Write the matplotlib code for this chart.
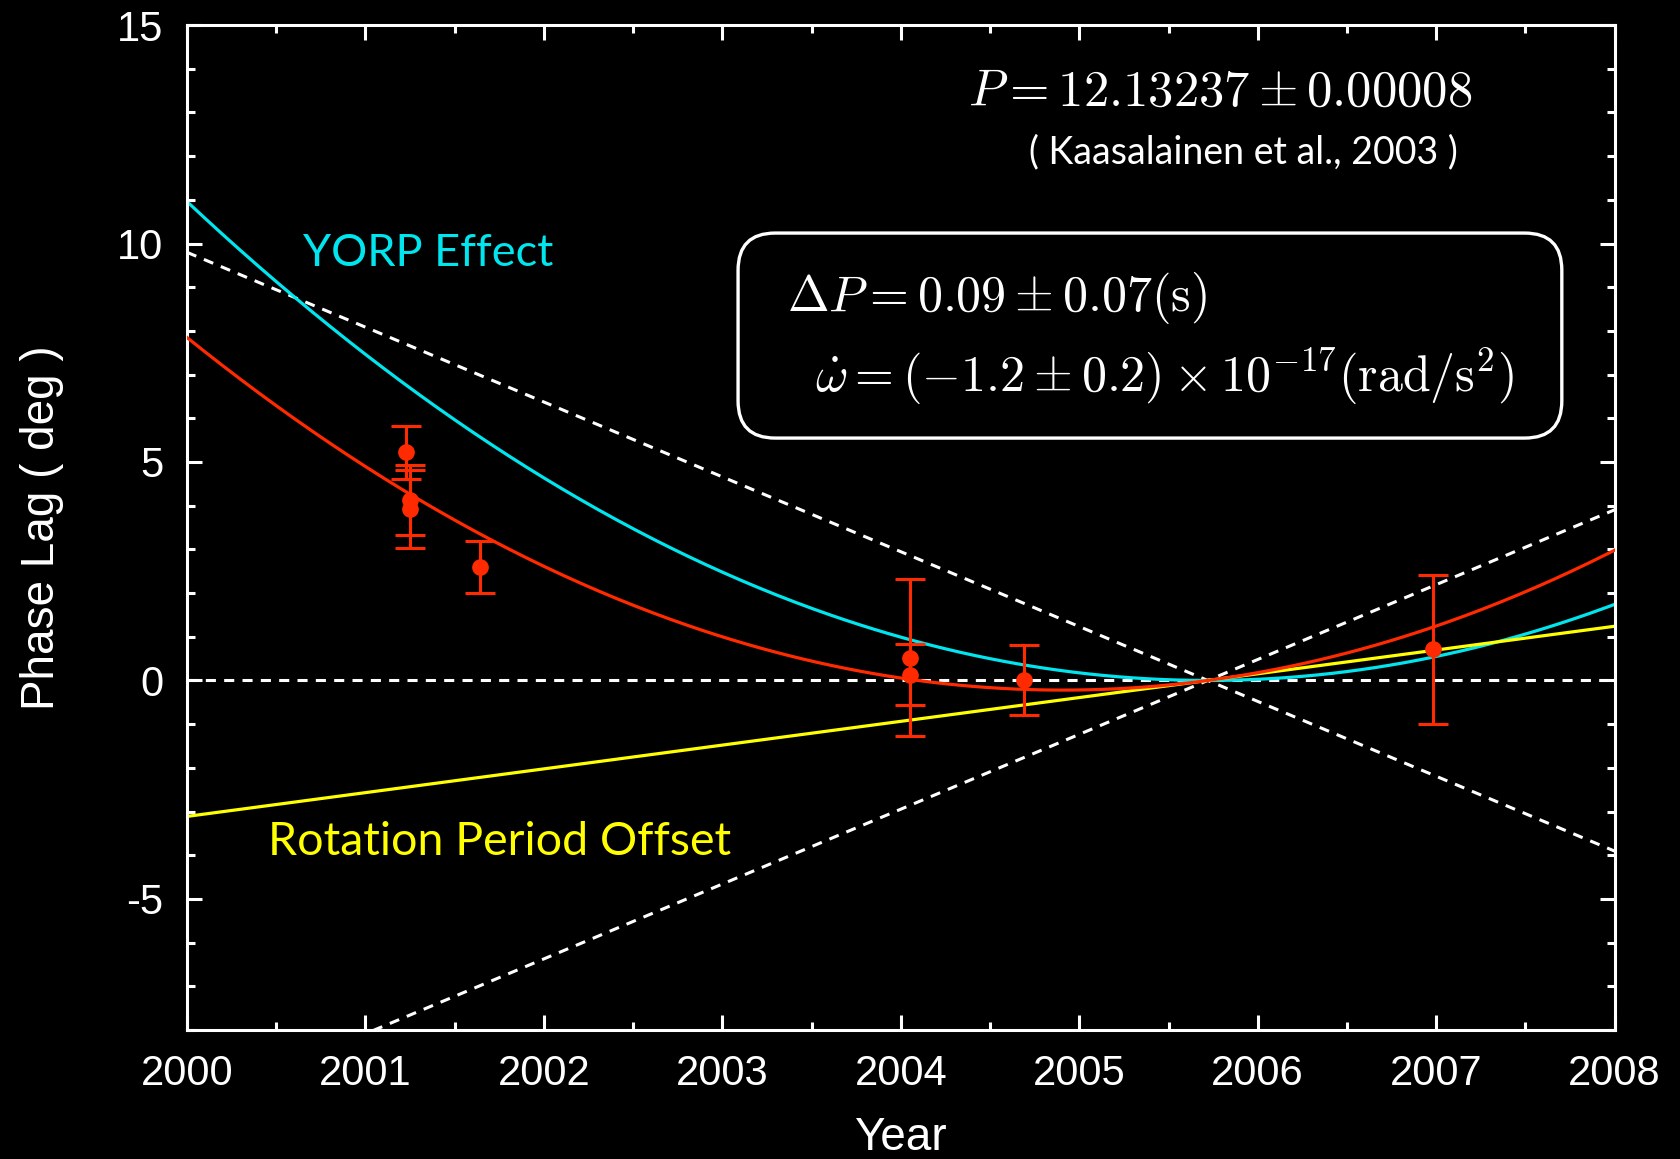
import numpy as np
import matplotlib
matplotlib.use("Agg")
import matplotlib.pyplot as plt
from matplotlib.patches import FancyBboxPatch
from matplotlib.ticker import MultipleLocator

plt.rcParams['mathtext.fontset'] = 'cm'
plt.rcParams['axes.unicode_minus'] = False

# measured phase lags
obs_year = [2001.23, 2001.25, 2001.25, 2001.64, 2004.05, 2004.05, 2004.69, 2006.98]
obs_lag = [5.22, 4.13, 3.92, 2.60, 0.52, 0.13, 0.00, 0.71]
obs_err = [0.60, 0.80, 0.90, 0.60, 1.80, 0.70, 0.80, 1.70]

# model parameters
t_ref = 2005.72        # epoch where all curves cross zero
lin_coef = 0.544       # deg / yr  (rotation period offset)
quad_coef = 0.335      # deg / yr^2 (YORP)
dash_slope = 1.713     # deg / yr  (envelope lines)

red = '#ff2a00'
cyan = '#00e5ee'
yellow = '#ffff00'

fig = plt.figure(figsize=(16.8, 11.59), dpi=100, facecolor='black')
ax = fig.add_axes([0.1113, 0.1113, 0.8498, 0.8671])
ax.set_facecolor('black')

t = np.linspace(2000, 2008, 400)
dt = t - t_ref
offset = lin_coef * dt
yorp = quad_coef * dt ** 2

# dashed reference lines
ax.plot(t, np.zeros_like(t), color='white', lw=2.2, dashes=(3.3, 2.7), zorder=1)
ax.plot(t, dash_slope * dt, color='white', lw=2.2, dashes=(3.3, 2.7), zorder=1)
ax.plot(t, -dash_slope * dt, color='white', lw=2.2, dashes=(3.3, 2.7), zorder=1)

ax.plot(t, yorp, color=cyan, lw=2.3, zorder=2)
ax.plot(t, offset, color=yellow, lw=2.3, zorder=2)
ax.plot(t, offset + yorp, color=red, lw=2.3, zorder=3)

ax.errorbar(obs_year, obs_lag, yerr=obs_err, fmt='o', color=red, ms=11,
            elinewidth=2.2, capsize=11, capthick=2.2, zorder=4)

ax.set_xlim(2000, 2008)
ax.set_ylim(-8, 15)
ax.xaxis.set_major_locator(MultipleLocator(1))
ax.xaxis.set_minor_locator(MultipleLocator(0.5))
ax.yaxis.set_major_locator(MultipleLocator(5))
ax.yaxis.set_minor_locator(MultipleLocator(1))

for s in ax.spines.values():
    s.set_color('white')
    s.set_linewidth(2.2)

ax.tick_params(which='both', direction='in', top=True, right=True, colors='white', width=2.2)
ax.tick_params(which='major', length=11, labelsize=30, pad=17)
ax.tick_params(which='minor', length=6)
for lab in ax.get_xticklabels() + ax.get_yticklabels():
    lab.set_family('Liberation Sans')

ax.set_xlabel('Year', color='white', fontsize=33, family='Liberation Sans', labelpad=16)
ax.set_ylabel('Phase Lag ( deg )', color='white', fontsize=33, family='Liberation Sans', labelpad=38)

ax.text(2001.35, 9.78, 'YORP Effect', color=cyan, fontsize=32.5, family='Lato',
        ha='center', va='center')
ax.text(2001.75, -3.7, 'Rotation Period Offset', color=yellow, fontsize=33.5, family='Lato',
        ha='center', va='center')

ax.text(0.724, 0.934, r'$P = 12.13237 \pm 0.00008$', color='white', fontsize=36.5,
        transform=ax.transAxes, ha='center', va='center')
ax.text(0.740, 0.873, '( Kaasalainen et al., 2003 )', color='white', fontsize=27,
        family='Lato', transform=ax.transAxes, ha='center', va='center')

# rounded box with the fit results
box_w, box_h = 0.8498 * 1680, 0.8671 * 1159
box = FancyBboxPatch((0.386, 0.589), 0.577, 0.204,
                     boxstyle='round,pad=0,rounding_size=0.026',
                     mutation_aspect=box_w / box_h,
                     transform=ax.transAxes, facecolor='black',
                     edgecolor='white', lw=2.4, zorder=5)
ax.add_patch(box)
ax.text(0.42, 0.728, r'$\Delta P = 0.09 \pm 0.07(\mathrm{s})$', color='white',
        fontsize=36, transform=ax.transAxes, ha='left', va='center', zorder=6)
ax.text(0.44, 0.650, r'$\dot{\omega} = (-1.2 \pm 0.2) \times 10^{-17} (\mathrm{rad/s^2})$',
        color='white', fontsize=36, transform=ax.transAxes, ha='left', va='center', zorder=6)

fig.savefig('out.png', dpi=100, facecolor='black')
